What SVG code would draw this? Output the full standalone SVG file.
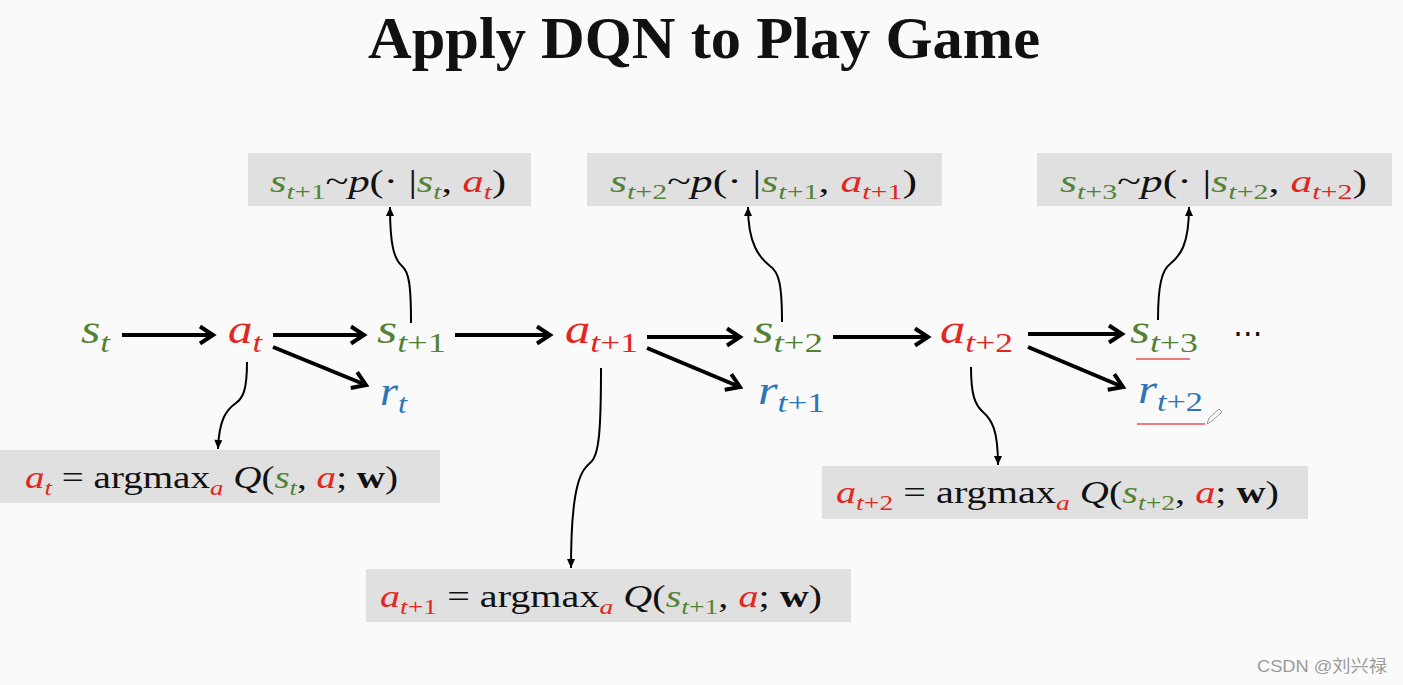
<svg xmlns="http://www.w3.org/2000/svg" width="1403" height="685" viewBox="0 0 1403 685">
<style>
.t{font-family:"Liberation Serif",serif;fill:#111}
.i{font-style:italic}
.g{fill:#548235}
.r{fill:#e3261f}
.b{fill:#2e75b6}
.k{fill:#111}
.box{fill:#e0e0e0}
.main{font-size:40px}
.bx{font-size:32px}
.thick{stroke:#000;stroke-width:4;fill:none;marker-end:url(#big)}
.thin{stroke:#000;stroke-width:2;fill:none;marker-end:url(#small)}
.ul{stroke:#e05555;stroke-width:1.6}
</style>
<defs>
<marker id="big" markerUnits="userSpaceOnUse" markerWidth="24" markerHeight="24" viewBox="-18 -12 24 24" refX="0" refY="0" orient="auto">
<path d="M-13,-8.5 L0,0 L-13,8.5" fill="none" stroke="#000" stroke-width="4" stroke-linejoin="miter"/>
</marker>
<marker id="small" markerUnits="userSpaceOnUse" markerWidth="14" markerHeight="14" viewBox="-11 -7 14 14" refX="0" refY="0" orient="auto">
<path d="M-9,-4 L0,0 L-9,4 z" fill="#000"/>
</marker>
</defs>
<rect width="1403" height="685" fill="#fafafa"/>
<text x="368" y="58" class="t" font-size="60" font-weight="bold" textLength="672" lengthAdjust="spacingAndGlyphs">Apply DQN to Play Game</text>

<g id="connectors">
<line class="thick" x1="122" y1="335" x2="213" y2="335"/>
<line class="thick" x1="273" y1="335" x2="364" y2="335"/>
<line class="thick" x1="273" y1="347" x2="366" y2="385"/>
<line class="thick" x1="455" y1="335" x2="550" y2="335"/>
<line class="thick" x1="647" y1="337" x2="740" y2="337"/>
<line class="thick" x1="647" y1="348" x2="740" y2="387"/>
<line class="thick" x1="833" y1="337" x2="928" y2="337"/>
<line class="thick" x1="1028" y1="334" x2="1122" y2="334"/>
<line class="thick" x1="1028" y1="347" x2="1123" y2="387"/>
<path class="thin" d="M411,323 C411,285 409,272 402,266 C394,259 390,245 390,207"/>
<path class="thin" d="M782,322 C782,285 779,272 770,266 C760,258 748,245 748,207"/>
<path class="thin" d="M1158,320 C1158,285 1162,270 1170,264 C1180,256 1189,245 1189,207"/>
<path class="thin" d="M247,362 C247,390 243,398 236,403 C226,410 219,420 218,449"/>
<path class="thin" d="M601,368 C601,430 599,455 591,462 C582,470 571,480 571,568"/>
<path class="thin" d="M971,367 C971,395 975,405 983,412 C992,420 998,430 998,465"/>
</g>

<g id="n-st"><text class="t main" x="81" y="343" textLength="29" lengthAdjust="spacingAndGlyphs"><tspan class="g i">s</tspan><tspan class="g i" font-size="28" dy="9">t</tspan></text></g>
<g id="n-at"><text class="t main" x="228" y="343" textLength="34" lengthAdjust="spacingAndGlyphs"><tspan class="r i">a</tspan><tspan class="r i" font-size="28" dy="9">t</tspan></text></g>
<g id="n-st1"><text class="t main" x="377" y="343" textLength="69" lengthAdjust="spacingAndGlyphs"><tspan class="g i">s</tspan><tspan class="g" font-size="28" dy="9"><tspan class="i">t</tspan>+1</tspan></text></g>
<g id="n-rt"><text class="t main" x="380" y="405" textLength="27" lengthAdjust="spacingAndGlyphs"><tspan class="b i">r</tspan><tspan class="b i" font-size="28" dy="8">t</tspan></text></g>
<g id="n-at1"><text class="t main" x="565" y="343" textLength="73" lengthAdjust="spacingAndGlyphs"><tspan class="r i">a</tspan><tspan class="r" font-size="28" dy="9"><tspan class="i">t</tspan>+1</tspan></text></g>
<g id="n-st2"><text class="t main" x="753" y="343" textLength="70" lengthAdjust="spacingAndGlyphs"><tspan class="g i">s</tspan><tspan class="g" font-size="28" dy="9"><tspan class="i">t</tspan>+2</tspan></text></g>
<g id="n-rt1"><text class="t main" x="758" y="404" textLength="67" lengthAdjust="spacingAndGlyphs"><tspan class="b i">r</tspan><tspan class="b" font-size="28" dy="8"><tspan class="i">t</tspan>+1</tspan></text></g>
<g id="n-at2"><text class="t main" x="940" y="343" textLength="73" lengthAdjust="spacingAndGlyphs"><tspan class="r i">a</tspan><tspan class="r" font-size="28" dy="9"><tspan class="i">t</tspan>+2</tspan></text></g>
<g id="n-st3"><text class="t main" x="1130" y="343" textLength="68" lengthAdjust="spacingAndGlyphs"><tspan class="g i">s</tspan><tspan class="g" font-size="28" dy="9"><tspan class="i">t</tspan>+3</tspan></text>
<line class="ul" x1="1136" y1="359" x2="1190" y2="359"/></g>
<g id="n-rt2"><text class="t main" x="1138" y="403" textLength="65" lengthAdjust="spacingAndGlyphs"><tspan class="b i">r</tspan><tspan class="b" font-size="28" dy="8"><tspan class="i">t</tspan>+2</tspan></text>
<line class="ul" x1="1137" y1="424" x2="1205" y2="424"/>
<path d="M1207,424 l2,-6 l10,-9 l3,3 l-10,9 z" fill="none" stroke="#999" stroke-width="1"/></g>
<g id="n-dots"><text x="1233" y="344" font-family="DejaVu Sans,sans-serif" font-size="32" fill="#111" textLength="30" lengthAdjust="spacingAndGlyphs">⋯</text></g>

<g id="b-s1">
<rect class="box" x="248" y="153" width="283" height="53"/>
<text class="t bx" x="270" y="192" textLength="236" lengthAdjust="spacingAndGlyphs"><tspan class="g i">s</tspan><tspan class="g" font-size="22" dy="7"><tspan class="i">t</tspan>+1</tspan><tspan class="k" dy="-7">~</tspan><tspan class="k i">p</tspan><tspan class="k">(· |</tspan><tspan class="g i">s</tspan><tspan class="g i" font-size="22" dy="7">t</tspan><tspan class="k" dy="-7">, </tspan><tspan class="r i">a</tspan><tspan class="r i" font-size="22" dy="7">t</tspan><tspan class="k" dy="-7">)</tspan></text>
</g>
<g id="b-s2">
<rect class="box" x="587" y="153" width="355" height="53"/>
<text class="t bx" x="610" y="192" textLength="307" lengthAdjust="spacingAndGlyphs"><tspan class="g i">s</tspan><tspan class="g" font-size="22" dy="7"><tspan class="i">t</tspan>+2</tspan><tspan class="k" dy="-7">~</tspan><tspan class="k i">p</tspan><tspan class="k">(· |</tspan><tspan class="g i">s</tspan><tspan class="g" font-size="22" dy="7"><tspan class="i">t</tspan>+1</tspan><tspan class="k" dy="-7">, </tspan><tspan class="r i">a</tspan><tspan class="r" font-size="22" dy="7"><tspan class="i">t</tspan>+1</tspan><tspan class="k" dy="-7">)</tspan></text>
</g>
<g id="b-s3">
<rect class="box" x="1037" y="153" width="355" height="53"/>
<text class="t bx" x="1060" y="192" textLength="307" lengthAdjust="spacingAndGlyphs"><tspan class="g i">s</tspan><tspan class="g" font-size="22" dy="7"><tspan class="i">t</tspan>+3</tspan><tspan class="k" dy="-7">~</tspan><tspan class="k i">p</tspan><tspan class="k">(· |</tspan><tspan class="g i">s</tspan><tspan class="g" font-size="22" dy="7"><tspan class="i">t</tspan>+2</tspan><tspan class="k" dy="-7">, </tspan><tspan class="r i">a</tspan><tspan class="r" font-size="22" dy="7"><tspan class="i">t</tspan>+2</tspan><tspan class="k" dy="-7">)</tspan></text>
</g>

<g id="b-a0">
<rect class="box" x="0" y="450" width="440" height="53"/>
<text class="t bx" x="25" y="488" textLength="373" lengthAdjust="spacingAndGlyphs"><tspan class="r i">a</tspan><tspan class="r i" font-size="22" dy="7">t</tspan><tspan class="k" dy="-7"> = argmax</tspan><tspan class="r i" font-size="22" dy="7">a</tspan><tspan class="k i" dy="-7"> Q</tspan><tspan class="k">(</tspan><tspan class="g i">s</tspan><tspan class="g i" font-size="22" dy="7">t</tspan><tspan class="k" dy="-7">, </tspan><tspan class="r i">a</tspan><tspan class="k">; </tspan><tspan class="k" font-weight="bold">w</tspan><tspan class="k">)</tspan></text>
</g>
<g id="b-a1">
<rect class="box" x="366" y="569" width="485" height="53"/>
<text class="t bx" x="380" y="607" textLength="442" lengthAdjust="spacingAndGlyphs"><tspan class="r i">a</tspan><tspan class="r" font-size="22" dy="7"><tspan class="i">t</tspan>+1</tspan><tspan class="k" dy="-7"> = argmax</tspan><tspan class="r i" font-size="22" dy="7">a</tspan><tspan class="k i" dy="-7"> Q</tspan><tspan class="k">(</tspan><tspan class="g i">s</tspan><tspan class="g" font-size="22" dy="7"><tspan class="i">t</tspan>+1</tspan><tspan class="k" dy="-7">, </tspan><tspan class="r i">a</tspan><tspan class="k">; </tspan><tspan class="k" font-weight="bold">w</tspan><tspan class="k">)</tspan></text>
</g>
<g id="b-a2">
<rect class="box" x="822" y="466" width="486" height="53"/>
<text class="t bx" x="836" y="503" textLength="443" lengthAdjust="spacingAndGlyphs"><tspan class="r i">a</tspan><tspan class="r" font-size="22" dy="7"><tspan class="i">t</tspan>+2</tspan><tspan class="k" dy="-7"> = argmax</tspan><tspan class="r i" font-size="22" dy="7">a</tspan><tspan class="k i" dy="-7"> Q</tspan><tspan class="k">(</tspan><tspan class="g i">s</tspan><tspan class="g" font-size="22" dy="7"><tspan class="i">t</tspan>+2</tspan><tspan class="k" dy="-7">, </tspan><tspan class="r i">a</tspan><tspan class="k">; </tspan><tspan class="k" font-weight="bold">w</tspan><tspan class="k">)</tspan></text>
</g>

<text x="1257" y="672" font-family="Liberation Sans,Noto Sans CJK SC,sans-serif" font-size="17" fill="#9a9a9a" textLength="130" lengthAdjust="spacingAndGlyphs">CSDN @刘兴禄</text>
</svg>
